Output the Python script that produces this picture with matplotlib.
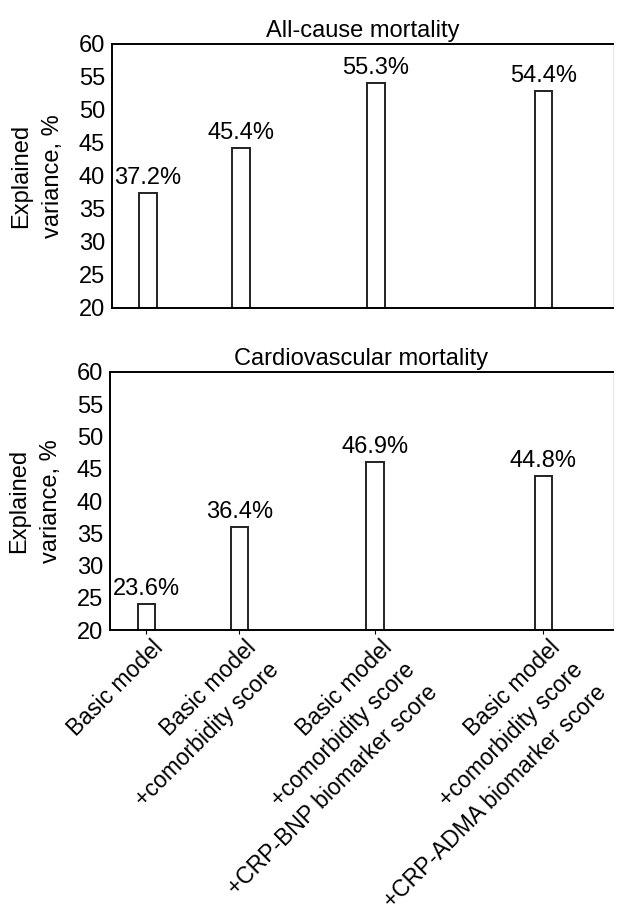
import matplotlib
matplotlib.use("Agg")
import matplotlib.pyplot as plt
from matplotlib.transforms import ScaledTranslation

plt.rcParams['font.family'] = ['Liberation Sans', 'DejaVu Sans']

# model names (x tick labels)
models = ["Basic model",
          "Basic model\n+comorbidity score",
          "Basic model\n+comorbidity score\n+CRP-BNP biomarker score",
          "Basic model\n+comorbidity score\n+CRP-ADMA biomarker score"]

# bar heights as drawn, and the printed value labels
allcause_vals = [37.4, 44.2, 54.1, 52.9]
allcause_labels = ["37.2%", "45.4%", "55.3%", "54.4%"]
cardio_vals = [24.0, 36.0, 46.0, 43.9]
cardio_labels = ["23.6%", "36.4%", "46.9%", "44.8%"]

titles = ["All-cause mortality", "Cardiovascular mortality"]
yticks = [20, 25, 30, 35, 40, 45, 50, 55, 60]

# bar centres are not evenly spaced in the original
xpos = [0.72, 2.57, 5.27, 8.62]
bw = 0.35

fig = plt.figure(figsize=(6.19, 9.16), dpi=100)
ax1 = fig.add_axes([0.181, 0.664, 0.809, 0.288])
ax2 = fig.add_axes([0.178, 0.312, 0.812, 0.282])

fs = 17
for ax, vals, labs, title in [(ax1, allcause_vals, allcause_labels, titles[0]),
                              (ax2, cardio_vals, cardio_labels, titles[1])]:
    bars = ax.bar(xpos, [v - 20 for v in vals], bottom=20, width=bw,
                  facecolor="white", edgecolor="#222222", linewidth=1.4)
    for b, lab in zip(bars, labs):
        ax.annotate(lab, (b.get_x() + b.get_width()/2, b.get_y() + b.get_height()),
                    xytext=(0, 3), textcoords="offset points",
                    ha="center", va="bottom", fontsize=fs)
    ax.set_xlim(0, 10)
    ax.set_ylim(20, 60)
    ax.set_yticks(yticks)
    ax.tick_params(axis="y", length=0, pad=5, labelsize=fs)
    ax.set_title(title, fontsize=fs, pad=5)
    ax.set_ylabel("Explained\nvariance, %", fontsize=fs, linespacing=1.6)
    ax.yaxis.set_label_coords(-0.096, 0.5)
    for s in ["top", "left", "bottom"]:
        ax.spines[s].set_linewidth(1.4)
    ax.spines["right"].set_color("#e6e6e6")

ax1.set_xticks([])

ax2.set_xticks(xpos)
ax2.set_xticklabels(models, rotation=45, ha="right", rotation_mode="anchor",
                    multialignment="right", fontsize=16.5, linespacing=1.5)
ax2.tick_params(axis="x", length=3, pad=1)
shift = ScaledTranslation(0.055, 0, fig.dpi_scale_trans)
for lab in ax2.get_xticklabels():
    lab.set_transform(lab.get_transform() + shift)

fig.savefig("out.png", dpi=100)
